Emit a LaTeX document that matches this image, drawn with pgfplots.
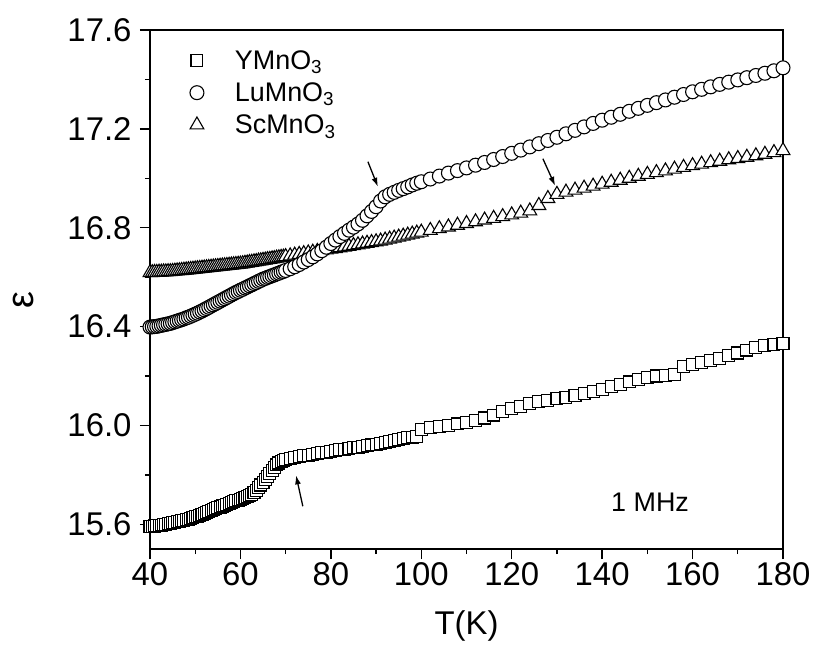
\documentclass[border=0pt]{standalone}
\usepackage{fontspec}
\setmainfont{Liberation Sans}
\usepackage{pgfplots}
\pgfplotsset{compat=1.18}
\usetikzlibrary{arrows.meta}

\newcommand{\bigfs}{\fontsize{33}{39}\selectfont}
\newcommand{\midfs}{\fontsize{27}{32}\selectfont}
\newcommand{\epsfs}{\fontsize{38}{44}\selectfont}

\begin{document}
\begin{tikzpicture}
\begin{axis}[
  scale only axis,
  width=633bp, height=519bp,
  xmin=40, xmax=180, ymin=15.5, ymax=17.6,
  xtick={40,60,...,180},
  ytick={15.6,16.0,16.4,16.8,17.2,17.6},
  minor x tick num=1, minor y tick num=1,
  tick pos=left, tick align=outside,
  major tick length=10bp, minor tick length=5bp,
  axis line style={line width=1.4pt},
  every tick/.style={line width=1.3pt, black},
  /pgf/number format/assume math mode=true,
  yticklabel style={xshift=-5bp, /pgf/number format/.cd, fixed, fixed zerofill, precision=1},
  tick label style={font=\bigfs},
  label style={font=\bigfs},
  xlabel={T(K)},
  ylabel={ε},
  xlabel style={at={(axis description cs:0.5,-0.148)}, anchor=center},
  ylabel style={at={(axis description cs:-0.200,0.48)}, anchor=center, inner sep=0pt, font=\epsfs},
  legend style={at={(axis description cs:0.0565,0.969)}, anchor=north west,
    draw=none, fill=none, font=\midfs, row sep=8bp},
  legend cell align=left,
  legend image code/.code={\path[draw=none,fill=none] (-8bp,0) -- (36bp,0); \draw[#1] plot coordinates {(0bp,0bp)};},
  every axis plot/.append style={only marks, line width=1.1pt, mark options={fill=white, draw=black, solid}},
]
\addplot[forget plot, mark=triangle*, mark size=8pt] coordinates {
(40,16.618)(40.5,16.618)(41,16.619)(41.5,16.619)(42,16.620)(42.5,16.620)(43,16.621)(43.5,16.621)(44,16.622)(44.5,16.622)
(45,16.623)(45.5,16.624)(46,16.625)(46.5,16.626)(47,16.627)(47.5,16.628)(48,16.629)(48.5,16.630)(49,16.631)(49.5,16.632)
(50,16.633)(50.5,16.634)(51,16.635)(51.5,16.636)(52,16.637)(52.5,16.638)(53,16.639)(53.5,16.640)(54,16.641)(54.5,16.642)
(55,16.643)(55.5,16.644)(56,16.645)(56.5,16.646)(57,16.647)(57.5,16.648)(58,16.649)(58.5,16.650)(59,16.651)(59.5,16.652)
(60,16.653)(60.5,16.654)(61,16.656)(61.5,16.657)(62,16.659)(62.5,16.660)(63,16.662)(63.5,16.663)(64,16.665)(64.5,16.666)
(65,16.668)(65.5,16.669)(66,16.671)(66.5,16.672)(67,16.674)(67.5,16.675)(68,16.677)(68.5,16.678)(69,16.680)(69.5,16.681)
(70,16.683)(71,16.686)(72,16.689)(73,16.692)(74,16.695)(75,16.698)(76,16.701)(77,16.704)(78,16.707)(79,16.710)
(80,16.713)(81,16.716)(82,16.719)(83,16.722)(84,16.725)(85,16.728)(86,16.731)(87,16.734)(88,16.737)(89,16.740)
(90,16.743)(91,16.746)(92,16.750)(93,16.754)(94,16.758)(95,16.762)(96,16.766)(97,16.770)(98,16.774)(99,16.778)
(100,16.782)(102,16.789)(104,16.796)(106,16.803)(108,16.810)(110,16.817)(112,16.824)(114,16.831)(116,16.838)(118,16.845)
(120,16.852)(122,16.859)(124,16.868)(126,16.890)(128,16.918)(130,16.935)(132,16.944)(134,16.952)(136,16.960)(138,16.968)
(140,16.976)(142,16.984)(144,16.992)(146,17.000)(148,17.008)(150,17.016)(152,17.023)(154,17.030)(156,17.037)(158,17.044)
(160,17.051)(162,17.057)(164,17.063)(166,17.069)(168,17.075)(170,17.080)(172,17.085)(174,17.091)(176,17.097)(178,17.104)
(180,17.112)
};
\addplot[mark=square*, mark size=6pt] coordinates {
(40,15.590)(40.5,15.592)(41,15.593)(41.5,15.594)(42,15.596)(42.5,15.597)(43,15.599)(43.5,15.600)(44,15.602)(44.5,15.604)
(45,15.606)(45.5,15.608)(46,15.610)(46.5,15.612)(47,15.614)(47.5,15.616)(48,15.619)(48.5,15.621)(49,15.624)(49.5,15.627)
(50,15.630)(50.5,15.633)(51,15.636)(51.5,15.640)(52,15.643)(52.5,15.648)(53,15.652)(53.5,15.656)(54,15.660)(54.5,15.663)
(55,15.667)(55.5,15.670)(56,15.674)(56.5,15.677)(57,15.681)(57.5,15.684)(58,15.688)(58.5,15.691)(59,15.695)(59.5,15.698)
(60,15.702)(60.5,15.705)(61,15.709)(61.5,15.712)(62,15.716)(62.5,15.722)(63,15.728)(63.5,15.738)(64,15.748)(64.5,15.759)
(65,15.770)(65.5,15.782)(66,15.795)(66.5,15.806)(67,15.818)(67.5,15.829)(68,15.840)(68.5,15.848)(69,15.855)(69.5,15.859)
(70,15.862)(71,15.867)(72,15.871)(73,15.874)(74,15.877)(75,15.880)(76,15.883)(77,15.886)(78,15.889)(79,15.892)
(80,15.895)(81,15.898)(82,15.901)(83,15.903)(84,15.906)(85,15.909)(86,15.912)(87,15.915)(88,15.918)(89,15.921)
(90,15.924)(91,15.927)(92,15.931)(93,15.935)(94,15.939)(95,15.943)(96,15.947)(97,15.950)(98,15.953)(99,15.956)
(100,15.985)(102,15.990)(104,15.995)(106,16.000)(108,16.006)(110,16.013)(112,16.020)(114,16.030)(116,16.042)(118,16.055)
(120,16.070)(122,16.078)(124,16.087)(126,16.096)(128,16.102)(130,16.108)(132,16.114)(134,16.122)(136,16.130)(138,16.138)
(140,16.146)(142,16.156)(144,16.166)(146,16.176)(148,16.186)(150,16.195)(152,16.200)(154,16.202)(156,16.205)(158,16.240)
(160,16.248)(162,16.256)(164,16.264)(166,16.272)(168,16.282)(170,16.293)(172,16.305)(174,16.316)(176,16.322)(178,16.326)
(180,16.330)
};
\addlegendentry{YMnO\textsubscript{3}}
\addplot[mark=*, mark size=7pt] coordinates {
(40,16.398)(40.5,16.399)(41,16.400)(41.5,16.401)(42,16.403)(42.5,16.405)(43,16.407)(43.5,16.409)(44,16.411)(44.5,16.413)
(45,16.416)(45.5,16.419)(46,16.422)(46.5,16.425)(47,16.428)(47.5,16.431)(48,16.435)(48.5,16.438)(49,16.442)(49.5,16.446)
(50,16.450)(50.5,16.454)(51,16.459)(51.5,16.463)(52,16.468)(52.5,16.473)(53,16.478)(53.5,16.483)(54,16.488)(54.5,16.493)
(55,16.498)(55.5,16.503)(56,16.508)(56.5,16.513)(57,16.518)(57.5,16.523)(58,16.528)(58.5,16.533)(59,16.538)(59.5,16.542)
(60,16.547)(60.5,16.551)(61,16.556)(61.5,16.560)(62,16.565)(62.5,16.569)(63,16.574)(63.5,16.578)(64,16.583)(64.5,16.587)
(65,16.592)(65.5,16.595)(66,16.599)(66.5,16.602)(67,16.606)(67.5,16.609)(68,16.613)(68.5,16.616)(69,16.620)(69.5,16.623)
(70,16.627)(71,16.634)(72,16.642)(73,16.651)(74,16.661)(75,16.671)(76,16.682)(77,16.694)(78,16.707)(79,16.721)
(80,16.736)(81,16.750)(82,16.764)(83,16.777)(84,16.790)(85,16.802)(86,16.815)(87,16.830)(88,16.848)(89,16.866)
(90,16.885)(91,16.908)(92,16.925)(93,16.935)(94,16.943)(95,16.951)(96,16.958)(97,16.965)(98,16.973)(99,16.980)
(100,16.986)(102,16.997)(104,17.009)(106,17.021)(108,17.031)(110,17.042)(112,17.053)(114,17.064)(116,17.076)(118,17.088)
(120,17.101)(122,17.114)(124,17.127)(126,17.140)(128,17.153)(130,17.166)(132,17.180)(134,17.194)(136,17.208)(138,17.222)
(140,17.235)(142,17.247)(144,17.259)(146,17.271)(148,17.283)(150,17.295)(152,17.306)(154,17.317)(156,17.328)(158,17.339)
(160,17.350)(162,17.360)(164,17.370)(166,17.380)(168,17.389)(170,17.398)(172,17.407)(174,17.416)(176,17.425)(178,17.435)
(180,17.447)
};
\addlegendentry{LuMnO\textsubscript{3}}
\addlegendimage{only marks, line width=1.1pt, mark=triangle*, mark size=8pt, mark options={fill=white, draw=black, solid}}
\addlegendentry{ScMnO\textsubscript{3}}
\draw[-{Latex[length=9pt,width=6pt]}, line width=1.3pt] (axis cs:88.2,17.067) -- (axis cs:90.4,16.966);
\draw[-{Latex[length=9pt,width=6pt]}, line width=1.3pt] (axis cs:126.9,17.079) -- (axis cs:129.6,16.970);
\draw[-{Latex[length=9pt,width=6pt]}, line width=1.3pt] (axis cs:73.8,15.673) -- (axis cs:72.3,15.798);
\node[font=\midfs] at (axis cs:150.6,15.69) {1 MHz};
\end{axis}
\pgfresetboundingbox
\path ([shift={(-150bp,-96bp)}]current axis.south west) rectangle ([shift={(32bp,30bp)}]current axis.north east);
\end{tikzpicture}
\end{document}
